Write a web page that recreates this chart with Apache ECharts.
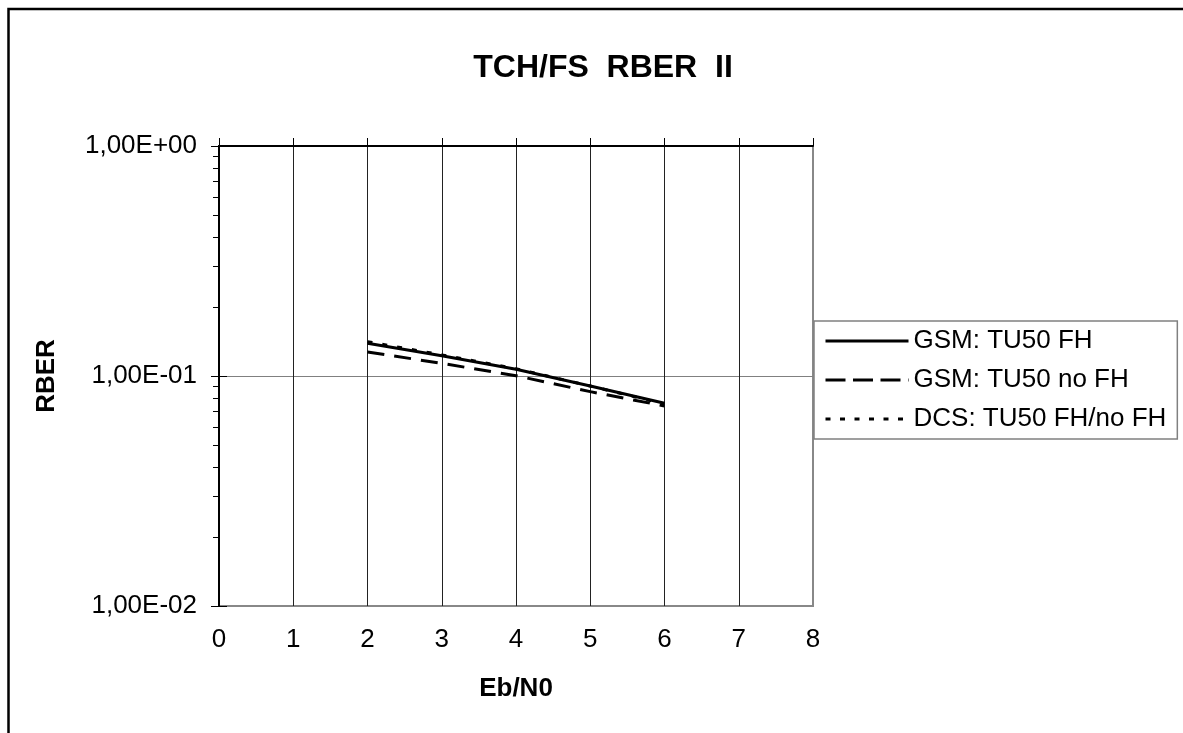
<!DOCTYPE html>
<html>
<head>
<meta charset="utf-8">
<script src="https://cdn.jsdelivr.net/npm/echarts@6/dist/echarts.min.js"></script>
<style>
  html, body { margin: 0; padding: 0; background: #fff; }
  #chart { width: 1183px; height: 733px; }
</style>
</head>
<body>
<div id="chart"></div>
<script>
// ---- data ----
const xValues = [2, 3, 4, 5, 6];
const gsmFH = [0.1387, 0.1225, 0.1070, 0.0905, 0.0761];
const gsmNoFH = [0.1272, 0.1135, 0.1003, 0.0855, 0.0741];
const dcsFH = [0.1410, 0.1235, 0.1075, 0.0905, 0.0755];
const seriesNames = ['GSM: TU50 FH', 'GSM: TU50 no FH', 'DCS: TU50 FH/no FH'];
const yTickValues = [0.01, 0.1, 1];
const yTickLabels = ['1,00E-02', '1,00E-01', '1,00E+00'];
const yMinorTicks = [0.02, 0.03, 0.04, 0.05, 0.06, 0.07, 0.08, 0.09, 0.2, 0.3, 0.4, 0.5, 0.6, 0.7, 0.8, 0.9];
const xTickLabels = ['0', '1', '2', '3', '4', '5', '6', '7', '8'];
const titleText = 'TCH/FS  RBER  II';
const xName = 'Eb/N0';
const yName = 'RBER';

const FONT = '"Liberation Sans", Arial, sans-serif';
const pair = arr => xValues.map((x, i) => [x, arr[i]]);
const dashTypes = ['solid', [17, 10], [5, 10]];
const legendDashTypes = ['solid', [20, 7.5], [5, 9.5]];

const chart = echarts.init(document.getElementById('chart'), null, { renderer: 'canvas' });
chart.setOption({
  animation: false,
  backgroundColor: '#fff',
  graphic: [{
    type: 'rect', silent: true, z: -10,
    shape: { x: 8.5, y: 9, width: 1400, height: 1000 },
    style: { fill: 'none', stroke: '#000', lineWidth: 2.5 }
  }],
  title: {
    text: titleText,
    left: 598, top: 47, textAlign: 'center',
    textStyle: { fontFamily: FONT, fontWeight: 'bold', fontSize: 32, color: '#000' }
  },
  grid: {
    left: 219, top: 146, width: 594, height: 460,
    show: true, borderColor: '#888', borderWidth: 2, backgroundColor: 'transparent'
  },
  legend: {
    orient: 'vertical',
    left: 814, top: 321,
    padding: [5, 11, 5, 10],
    itemWidth: 83, itemHeight: 14, itemGap: 9,
    borderColor: '#808080', borderWidth: 1.5,
    backgroundColor: '#fff',
    itemStyle: { opacity: 0 },
    textStyle: { fontFamily: FONT, fontSize: 26, color: '#000', lineHeight: 30 },
    data: seriesNames.map((n, i) => ({
      name: n,
      lineStyle: { color: '#000', width: 3, type: legendDashTypes[i] }
    }))
  },
  xAxis: [{
    type: 'value', min: 0, max: 8, interval: 1, position: 'bottom',
    name: xName, nameLocation: 'middle', nameGap: 70,
    nameTextStyle: { fontFamily: FONT, fontWeight: 'bold', fontSize: 26, color: '#000' },
    axisLine: { show: false },
    axisTick: { show: false },
    axisLabel: { fontFamily: FONT, fontSize: 26, color: '#000', margin: 21,
      formatter: v => xTickLabels[Math.round(v)] },
    splitLine: { show: true, showMinLine: false, showMaxLine: false, lineStyle: { color: '#222', width: 1 } }
  }, {
    type: 'value', min: 0, max: 8, interval: 1, position: 'top',
    axisLine: { show: true, lineStyle: { color: '#000', width: 2 } },
    axisTick: { show: true, inside: false, length: 8, lineStyle: { color: '#000', width: 1 } },
    axisLabel: { show: false },
    splitLine: { show: false }
  }],
  yAxis: [{
    type: 'log', logBase: 10, min: 0.01, max: 1, position: 'left',
    name: yName, nameLocation: 'middle', nameGap: 159,
    nameTextStyle: { fontFamily: FONT, fontWeight: 'bold', fontSize: 26, color: '#000' },
    axisLine: { show: true, lineStyle: { color: '#000', width: 2 } },
    axisTick: { show: true, inside: false, length: 8, lineStyle: { color: '#000', width: 1 } },
    axisLabel: { fontFamily: FONT, fontSize: 26, color: '#000', margin: 22,
      formatter: v => {
        const i = yTickValues.findIndex(t => Math.abs(Math.log10(t) - Math.log10(v)) < 1e-6);
        return i >= 0 ? yTickLabels[i] : '';
      } },
    splitLine: { show: true, showMinLine: false, showMaxLine: false, lineStyle: { color: '#808080', width: 1 } }
  }, {
    type: 'log', logBase: 10, min: 0.01, max: 1, position: 'left',
    axisLine: { show: false },
    axisTick: { show: true, inside: true, length: 8, lineStyle: { color: '#000', width: 1 } },
    axisLabel: { show: false },
    splitLine: { show: false }
  }, {
    type: 'log', logBase: 10, min: 0.01, max: 1, position: 'left',
    axisLine: { show: false },
    axisTick: { show: true, inside: false, length: 6, customValues: yMinorTicks,
      lineStyle: { color: '#000', width: 1 } },
    axisLabel: { show: false },
    splitLine: { show: false }
  }],
  series: [{
    name: seriesNames[0], type: 'line', data: pair(gsmFH),
    symbol: 'none', z: 3,
    lineStyle: { color: '#000', width: 3, type: dashTypes[0] }, itemStyle: { color: '#000' }
  }, {
    name: seriesNames[1], type: 'line', data: pair(gsmNoFH),
    symbol: 'none', z: 3,
    lineStyle: { color: '#000', width: 3, type: dashTypes[1] }, itemStyle: { color: '#000' }
  }, {
    name: seriesNames[2], type: 'line', data: pair(dcsFH),
    symbol: 'none', z: 4,
    lineStyle: { color: '#000', width: 3, type: dashTypes[2] }, itemStyle: { color: '#000' }
  }]
});
</script>
</body>
</html>
